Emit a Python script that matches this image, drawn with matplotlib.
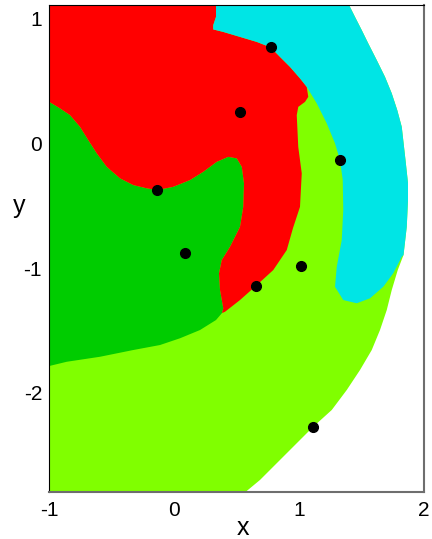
import matplotlib
matplotlib.use("Agg")
import matplotlib.pyplot as plt
import numpy as np

plt.rcParams["font.family"] = ["Liberation Sans", "DejaVu Sans"]
plt.rcParams["axes.unicode_minus"] = False

# sample points (x, y)
pts_x = [0.774, 0.528, 1.328, -0.134, 0.088, 1.016, 0.654, 1.110]
pts_y = [0.766, 0.250, -0.136, -0.376, -0.882, -0.982, -1.144, -2.270]

# class boundaries, in data units
# red / dark green: left edge -> round the green lobe -> tip of the red tongue
red_green_edge = [(-1.10, 0.39), (-0.998, 0.330), (-0.912, 0.278), (-0.832, 0.224),
                  (-0.752, 0.130), (-0.686, 0.024), (-0.618, -0.082), (-0.538, -0.190),
                  (-0.432, -0.282), (-0.326, -0.336), (-0.218, -0.362), (-0.134, -0.376),
                  (-0.006, -0.350), (0.128, -0.296), (0.234, -0.230), (0.342, -0.150),
                  (0.434, -0.110), (0.502, -0.122), (0.542, -0.190), (0.560, -0.322),
                  (0.554, -0.510), (0.528, -0.670), (0.448, -0.830), (0.382, -0.936),
                  (0.360, -1.042), (0.368, -1.176), (0.394, -1.322), (0.384, -1.360)]
# dark green / light green: tongue tip -> left edge
green_lgreen_edge = [(0.384, -1.360), (0.336, -1.416), (0.208, -1.496), (0.048, -1.562),
                     (-0.112, -1.616), (-0.326, -1.656), (-0.592, -1.710),
                     (-0.858, -1.750), (-0.998, -1.784), (-1.10, -1.79)]
# red / light green: triple point with cyan -> tongue tip
red_lgreen_edge = [(1.062, 0.450), (1.074, 0.370), (1.048, 0.330), (0.994, 0.290),
                   (0.982, 0.224), (0.994, -0.030), (1.022, -0.242), (1.008, -0.510),
                   (0.952, -0.680), (0.902, -0.856), (0.794, -1.016), (0.654, -1.144),
                   (0.528, -1.256), (0.408, -1.350), (0.384, -1.360)]
# red / cyan: top edge -> triple point
red_cyan_edge = [(0.336, 1.20), (0.336, 1.010), (0.314, 0.944), (0.314, 0.910),
                 (0.394, 0.890), (0.528, 0.850), (0.662, 0.810), (0.774, 0.766),
                 (0.848, 0.690), (0.928, 0.610), (1.008, 0.518), (1.062, 0.450)]
# cyan / light green: triple point -> round the lower cyan lobe -> outer rim
cyan_inner_edge = [(1.062, 0.450), (1.142, 0.318), (1.222, 0.158), (1.288, -0.002),
                   (1.328, -0.136), (1.350, -0.296), (1.354, -0.536), (1.342, -0.776),
                   (1.302, -0.990), (1.288, -1.150), (1.354, -1.256), (1.462, -1.282),
                   (1.568, -1.242), (1.674, -1.150), (1.754, -1.042), (1.822, -0.910)]
# outer rim of the classified domain (white beyond), top -> bottom
outer_edge = [(1.36, 1.20), (1.402, 1.102), (1.448, 1.010), (1.502, 0.904), (1.554, 0.798),
              (1.622, 0.664), (1.688, 0.530), (1.742, 0.398), (1.786, 0.264),
              (1.822, 0.130), (1.834, 0.024), (1.852, -0.136), (1.872, -0.320),
              (1.872, -0.456), (1.862, -0.670), (1.836, -0.896), (1.790, -1.016),
              (1.742, -1.176), (1.702, -1.336), (1.648, -1.496), (1.582, -1.656),
              (1.488, -1.816), (1.382, -1.976), (1.262, -2.136), (1.114, -2.270),
              (0.982, -2.402), (0.822, -2.562), (0.688, -2.696), (0.582, -2.784),
              (0.52, -2.85)]

C_RED, C_CYAN, C_GREEN, C_LGREEN = "#ff0000", "#00e5e5", "#00cc00", "#80ff00"


def poly(*parts):
    return np.vstack([np.asarray(p, float) for p in parts])


n_cyan_top = 15  # outer-rim vertices shared with the cyan band (down to y ~ -0.9)

domain = poly([(-1.10, 1.20)], outer_edge, [(-1.10, -2.85)])
green = poly(red_green_edge, green_lgreen_edge)
red = poly([(-1.10, 1.20)], red_cyan_edge, red_lgreen_edge[1:], red_green_edge[::-1][1:])
cyan = poly(cyan_inner_edge, outer_edge[:n_cyan_top + 1][::-1], red_cyan_edge)

fig = plt.figure(figsize=(4.32, 5.39), dpi=100)
ax = fig.add_axes([49 / 432, 47.3 / 539, 375 / 432, 486.4 / 539])
for verts, col in [(domain, C_LGREEN), (green, C_GREEN), (red, C_RED), (cyan, C_CYAN)]:
    ax.fill(verts[:, 0], verts[:, 1], color=col, lw=0, zorder=1)
ax.plot(pts_x, pts_y, "o", color="black", ms=7, zorder=3)

ax.set_xlim(-1, 2)
ax.set_ylim(-2.79, 1.103)
ax.set_xticks([-1, 0, 1, 2])
ax.set_yticks([-2, -1, 0, 1])
ax.tick_params(length=0, labelsize=15)
ax.tick_params(axis="x", pad=7)
ax.tick_params(axis="y", pad=5)
for side in ["left", "top"]:
    ax.spines[side].set_color("black")
for side in ["right", "bottom"]:
    ax.spines[side].set_color("#6e6e6e")
    ax.spines[side].set_linewidth(1.5)
ax.set_xlabel("x", fontsize=18, va="baseline")
ax.set_ylabel("y", fontsize=18, rotation=0, va="baseline", ha="center")
ax.xaxis.set_label_coords(0.516, -0.09)
ax.yaxis.set_label_coords(-0.08, 0.573)

fig.savefig("out.png", dpi=100)
